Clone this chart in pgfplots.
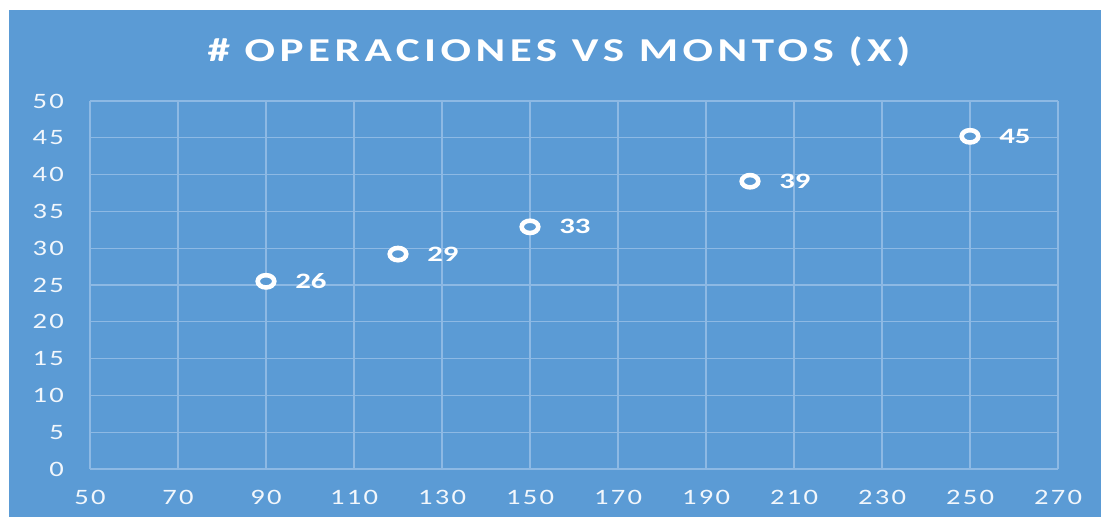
\documentclass[border=0pt]{standalone}
\usepackage{fontspec}
\setmainfont{Carlito}
\newfontfamily\titlefont[LetterSpace=10]{Carlito}
\newfontfamily\tickfont[LetterSpace=8]{Carlito}
\usepackage{pgfplots}
\pgfplotsset{compat=1.18}
\definecolor{bgblue}{HTML}{5B9BD5}
\definecolor{gridblue}{HTML}{8DB9E4}
\begin{document}
\begin{tikzpicture}
% white margin and blue chart area
\path[use as bounding box] (-1.80,-0.96) rectangle (20.22,9.38);
\fill[bgblue] (-1.62,-0.96) rectangle (20.22,9.18);
\node[text=white, font=\titlefont\bfseries\fontsize{19}{22}\selectfont] at (9.38,8.34)
    {\scalebox{1.35}[1]{\# OPERACIONES VS MONTOS (X)}};
\begin{axis}[
    at={(0,0)}, anchor=south west,
    scale only axis,
    width=19.36cm, height=7.36cm,
    xmin=50, xmax=270, ymin=0, ymax=50,
    xtick={50,70,...,270},
    ytick={0,5,...,50},
    grid=major,
    grid style={gridblue, line width=0.6pt},
    axis line style={draw=none},
    axis x line*=bottom,
    axis y line*=left,
    x axis line style={draw=gridblue, line width=0.9pt},
    major tick length=0pt,
    /pgf/number format/assume math mode=true,
    xticklabel={\scalebox{1.3}[1]{\pgfmathprintnumber{\tick}}},
    yticklabel={\scalebox{1.3}[1]{\pgfmathprintnumber{\tick}}},
    tick label style={text=white!92!bgblue, font=\tickfont\fontsize{12.5}{14}\selectfont},
    xticklabel style={yshift=-0.3cm},
    yticklabel style={xshift=-0.4cm},
    clip=false,
]
\addplot[only marks, mark=*, mark size=3.5pt,
    mark options={draw=white, fill=bgblue, line width=2.6pt, xscale=1.35},
    nodes near coords={\scalebox{1.4}[1]{\pgfplotspointmeta}},
    point meta=explicit symbolic,
    every node near coord/.style={anchor=west, inner sep=0pt, xshift=0.54cm,
        text=white, font=\bfseries\fontsize{12.5}{14}\selectfont}]
    table[meta=lab] {
    x   y    lab
    90  25.5 26
    120 29.2 29
    150 32.9 33
    200 39.1 39
    250 45.2 45
    };
\end{axis}
\end{tikzpicture}
\end{document}
